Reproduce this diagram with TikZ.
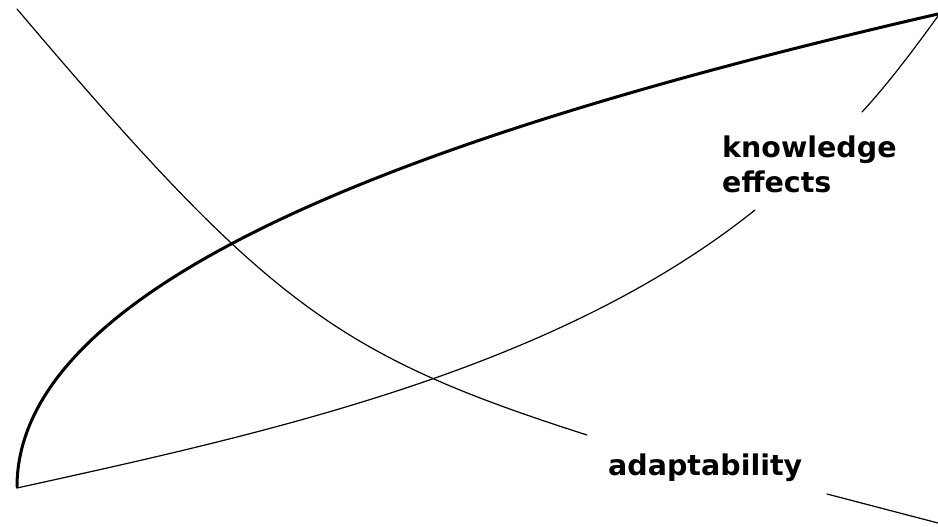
\documentclass[tikz,border=0pt]{standalone}
\usepackage{fontspec}
\setmainfont{DejaVu Sans}
\begin{document}
\begin{tikzpicture}[x=1pt,y=-1pt,
  thinline/.style={line width=1.2pt, black, line cap=round},
  thickline/.style={line width=3pt, black, line cap=round},
  label/.style={font=\bfseries\fontsize{28.5}{35}\selectfont, inner sep=0pt, align=left}]
\useasboundingbox (0,0) rectangle (938,527);
% thick curve
\draw[thickline] (17,487) .. controls (17,277) and (438,129) .. (938,14);
% thin lower curve (interrupted by the label)
\draw[thinline] (17,488) .. controls (267,433) and (555,370) .. (755,210);
\draw[thinline] (862,112) .. controls (887,85) and (912,52) .. (938,16);
% diagonal thin curve (interrupted by the label)
\draw[thinline] (17,9) .. controls (267,304) and (337,355) .. (587,435);
\draw[thinline] (827,494) -- (938,523);
% labels
\node[label, anchor=base west] (knowledge) at (722,192) {knowledge\\effects};
\node[label, anchor=base west] (adapt) at (608,475) {adaptability};
\end{tikzpicture}
\end{document}
